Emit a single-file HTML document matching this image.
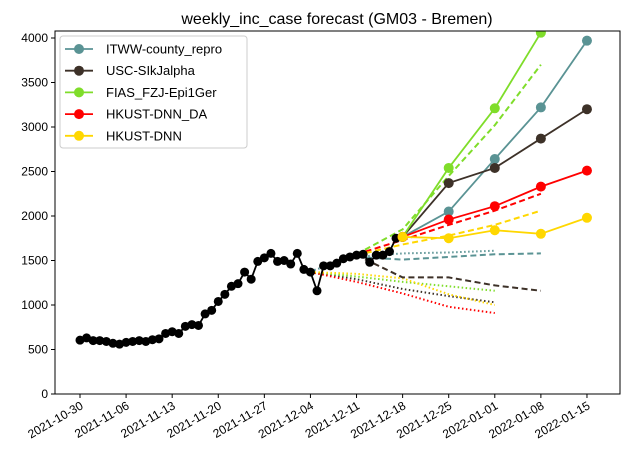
<!DOCTYPE html>
<html><head><meta charset="utf-8"><style>body{margin:0;background:#fff}svg{font-family:"Liberation Sans",sans-serif}</style></head>
<body>
<svg id="c" width="635" height="466"></svg>
<script>
const truthStart="2021-10-30";
const truth=[605,630,600,600,590,570,560,580,590,600,590,610,620,680,700,680,760,780,770,900,940,1040,1120,1210,1240,1370,1290,1490,1530,1580,1490,1500,1460,1580,1400,1370,1160,1440,1440,1470,1520,1540,1560,1570,1480,1560,1560,1600,1750];
const seriesNames=["ITWW-county_repro","USC-SIkJalpha","FIAS_FZJ-Epi1Ger","HKUST-DNN_DA","HKUST-DNN"];
const seriesColors=["#5a9394","#3d3128","#7fdd2a","#ff0000","#ffd700"];
const solidDates=["2021-12-18","2021-12-25","2022-01-01","2022-01-08","2022-01-15"];
const solidITWW=[1765,2050,2640,3220,3970];
const solidUSC=[1765,2370,2540,2870,3200];
const solidFIAS=[1765,2540,3210,4060,4900];
const solidDA=[1765,1960,2110,2330,2510];
const solidDNN=[1765,1750,1840,1800,1980];
const dashDates=["2021-12-11","2021-12-18","2021-12-25","2022-01-01","2022-01-08"];
const dashITWW=[1540,1510,1540,1570,1580];
const dashUSC=[1560,1310,1310,1220,1160];
const dashFIAS=[1570,1850,2450,3020,3700];
const dashDA=[1570,1730,1900,2060,2250];
const dashDNN=[1560,1680,1780,1900,2060];
const dotDates=["2021-12-04","2021-12-11","2021-12-18","2021-12-25","2022-01-01"];
const dotITWW=[1380,1540,1580,1590,1610];
const dotUSC=[1370,1290,1180,1100,1030];
const dotFIAS=[1370,1320,1260,1210,1160];
const dotDA=[1370,1260,1130,980,910];
const dotDNN=[1370,1350,1300,1120,1000];
const xTicks=["2021-10-30","2021-11-06","2021-11-13","2021-11-20","2021-11-27","2021-12-04","2021-12-11","2021-12-18","2021-12-25","2022-01-01","2022-01-08","2022-01-15"];
const yTicks=[0,500,1000,1500,2000,2500,3000,3500,4000];

const NS="http://www.w3.org/2000/svg",svg=document.getElementById('c');
const L=55,R=620,T=31,B=394;
const day=d=>Date.parse(d+"T00:00:00Z")/864e5;
const d0=day("2021-10-30");
const X=d=>80+(day(d)-d0)*6.584;
const Xn=n=>80+(n-d0)*6.584;
const Y=v=>394-v*0.089;
function mk(t,a,p){const e=document.createElementNS(NS,t);for(const k in a)e.setAttribute(k,a[k]);(p||svg).appendChild(e);return e;}
const defs=mk('defs',{});const cp=mk('clipPath',{id:'pc'},defs);mk('rect',{x:L,y:T,width:R-L,height:B-T},cp);
const title=mk('text',{x:337,y:24,'text-anchor':'middle','font-size':16});title.textContent="weekly_inc_case forecast (GM03 - Bremen)";

const g=mk('g',{'clip-path':'url(#pc)'});

function line(xs,ys,col,dash,w,name){const p=mk('polyline',{points:xs.map((x,i)=>x+','+ys[i]).join(' '),fill:'none',stroke:col,'stroke-width':w||1.5,'stroke-dasharray':dash||'none'},g);
return p;}
const dots=[dotITWW,dotUSC,dotFIAS,dotDA,dotDNN],dashes=[dashITWW,dashUSC,dashFIAS,dashDA,dashDNN],solids=[solidITWW,solidUSC,solidFIAS,solidDA,solidDNN];
dots.forEach((s,i)=>line(dotDates.map(X),s.map(Y),seriesColors[i],'1.5 2.5',2,'dotted-forecast-'+i));
dashes.forEach((s,i)=>line(dashDates.map(X),s.map(Y),seriesColors[i],'6 3.5',2,'dashed-forecast-'+i));
const tx=truth.map((v,i)=>Xn(d0+i)),ty=truth.map(Y);
line(tx,ty,'#000',null,1.8,'truth-line');
tx.forEach((x,i)=>{const c=mk('circle',{cx:x,cy:ty[i],r:4.5,fill:'#000'},g);});
solids.forEach((s,i)=>{line(solidDates.map(X),s.map(Y),seriesColors[i],null,1.8,'solid-forecast-'+i);
 s.forEach((v,j)=>{const c=mk('circle',{cx:X(solidDates[j]),cy:Y(v),r:5,fill:seriesColors[i]},g);});});
const frame=mk('rect',{x:L,y:T,width:R-L,height:B-T,fill:'none',stroke:'#000','stroke-width':1});

yTicks.forEach(v=>{const y=Y(v);mk('line',{x1:L-4,x2:L,y1:y,y2:y,stroke:'#000'});const t=mk('text',{x:L-7,y:y+4,'text-anchor':'end','font-size':12});t.textContent=v;
 });
xTicks.forEach(d=>{const x=X(d);mk('line',{x1:x,x2:x,y1:B,y2:B+4,stroke:'#000'});const t=mk('text',{x:x+4,y:B+14,'text-anchor':'end','font-size':12,transform:`rotate(-30 ${x+4} ${B+14})`});t.textContent=d;
 });
const lg=mk('g',{});
mk('rect',{x:60,y:36,width:187,height:112,rx:3,fill:'#fff','fill-opacity':0.8,stroke:'#ccc'},lg);
seriesNames.forEach((n,i)=>{const y=49+i*21.7;mk('line',{x1:65,x2:93,y1:y,y2:y,stroke:seriesColors[i],'stroke-width':1.8},lg);mk('circle',{cx:79,cy:y,r:5,fill:seriesColors[i]},lg);
 const t=mk('text',{x:106,y:y+4.5,'font-size':13},lg);t.textContent=n;});
</script>
</body></html>
